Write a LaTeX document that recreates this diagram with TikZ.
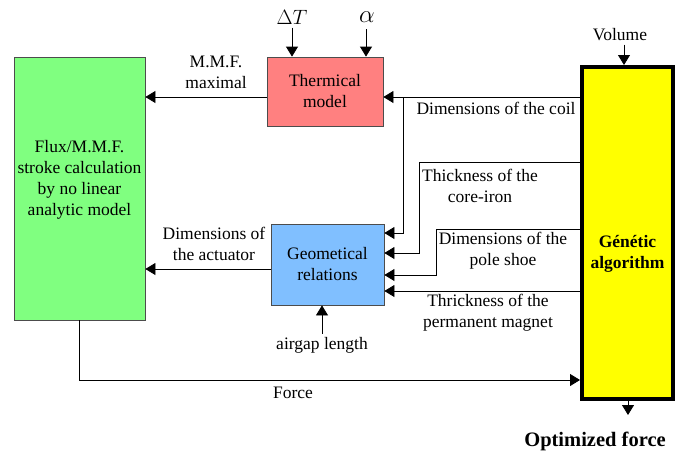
\documentclass[tikz,border=0pt]{standalone}
\usepackage{fontspec}
\setmainfont{Liberation Serif}
\usepackage{amsmath}
\usetikzlibrary{arrows.meta}
\definecolor{fluxgreen}{HTML}{80FF80}
\definecolor{thermred}{HTML}{FF8080}
\definecolor{geoblue}{HTML}{80BFFF}
\definecolor{genyellow}{HTML}{FFFF00}

\begin{document}
\begin{tikzpicture}[
            x=1pt, y=-1pt,
            font=\fontsize{17.5}{21}\selectfont,
            box/.style={draw=black!70, line width=0.8pt, inner sep=0pt, align=center},
            arr/.style={-{Triangle[length=10pt,width=12pt]}, line width=0.8pt},
            bigmath/.style={font=\fontsize{22}{24}\selectfont}
        ]
            \useasboundingbox (0,0) rectangle (682,453);

            \node [box, fill=fluxgreen, minimum width=131pt, minimum height=263pt] (flux) at (79.5,188.5) {};
            \node [align=center] (fluxtxt) at (79.5,180) {Flux/M.M.F.\\stroke calculation\\by no linear\\analytic model};
            \node [box, fill=thermred, minimum width=116pt, minimum height=69pt] (therm) at (325,91.5) {Thermical\\model};
            \node [box, fill=geoblue, minimum width=113pt, minimum height=81pt] (geo) at (327.5,264.5) {Geometical\\relations};
            \node [draw, line width=4pt, fill=genyellow, minimum width=91pt, minimum height=332pt] (gen) at (627.5,233) {};
            \node [align=center, font=\bfseries\fontsize{17.5}{21}\selectfont] (gentxt) at (627.5,254) {Génétic\\algorithm};

            \node [bigmath] (dT) at (292,17) {$\Delta T$};
            \node [bigmath, font=\fontsize{26}{28}\selectfont] (alpha) at (367,17) {$\alpha$};
            \node (vol) at (620,35) {Volume};
            \node (gap) at (322,345) {airgap length};
            \node [font=\bfseries\fontsize{20.5}{24}\selectfont] (opt) at (595,441) {Optimized force};
            \coordinate (optend) at (628,415);

            \draw [arr] (dT.south) -- (dT.south |- therm.north);
            \draw [arr] (366,29) -- (therm.north -| 366,0);
            \draw [arr] (vol.south -| 624,0) -- (gen.north -| 624,0);
            \draw [arr] (gap.north) -- (gap.north |- geo.south);
            \draw [arr] (gen.south -| optend) -- (optend);

            \draw [arr] (therm.west |- 0,97) -- (flux.east |- 0,97);
            \node [align=center] at (216,72) {M.M.F.\\maximal};
            \draw [arr] (geo.west |- 0,269) -- (flux.east |- 0,269);
            \node [align=center] at (214,244) {Dimensions of\\the actuator};

            \draw [arr] (gen.west |- 0,97) -- (therm.east |- 0,97);
            \draw [arr] (403,97) |- (geo.east |- 0,233);
            \foreach \xb/\ya/\yb in {419/162/253, 436/229/275} {
                \draw [arr] (gen.west |- 0,\ya) -- (\xb,\ya) |- (geo.east |- 0,\yb);
            }
            \draw [arr] (gen.west |- 0,291) -- (geo.east |- 0,291);
            \node [anchor=west] at (413,108) {Dimensions of the coil};
            \node [align=center] at (480,186) {Thickness of the\\core-iron};
            \node [align=center] at (503,251) {Dimensions of the\\pole shoe};
            \node [align=center] at (488,313) {Thrickness of the\\permanent magnet};

            \draw [arr] (flux.south) |- (gen.west |- 0,380);
            \node at (293,393) {Force};
        \end{tikzpicture}
\end{document}
